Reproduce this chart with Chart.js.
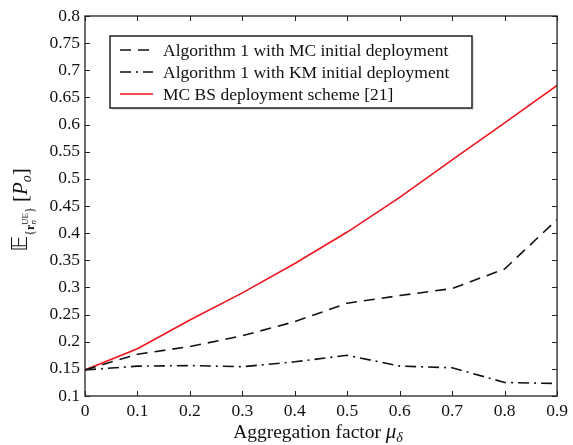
<!DOCTYPE html>
<html>
<head>
<meta charset="utf-8">
<script src="https://cdn.jsdelivr.net/npm/chart.js@4/dist/chart.umd.min.js"></script>
<style>
  html, body { margin: 0; padding: 0; background: #fff; }
  #wrap { width: 573px; height: 445px; }
</style>
</head>
<body>
<div id="wrap"><canvas id="myChart"></canvas></div>
<script>
// aggregation factor values on the x axis
const aggFactor = [0, 0.1, 0.2, 0.3, 0.4, 0.5, 0.6, 0.7, 0.8, 0.9];
// Algorithm 1 with MC initial deployment
const algoMC = [0.148, 0.177, 0.191, 0.211, 0.237, 0.271, 0.285, 0.298, 0.334, 0.425];
// Algorithm 1 with KM initial deployment
const algoKM = [0.148, 0.155, 0.156, 0.154, 0.163, 0.175, 0.155, 0.152, 0.125, 0.123];
// MC BS deployment scheme [21]
const mcBS = [0.148, 0.187, 0.240, 0.290, 0.344, 0.402, 0.466, 0.535, 0.603, 0.672];

const legendLabels = [
    'Algorithm 1 with MC initial deployment',
    'Algorithm 1 with KM initial deployment',
    'MC BS deployment scheme [21]'
];

const serif = '"Liberation Serif", "Times New Roman", serif';

const toPoints = (arr) => aggFactor.map((x, i) => ({ x: x, y: arr[i] }));

// box + inward ticks on all four sides
const framePlugin = {
    id: 'frame',
    afterDraw(chart) {
        const { ctx, chartArea: a, scales: { x, y } } = chart;
        ctx.save();
        ctx.strokeStyle = '#222';
        ctx.lineWidth = 1.3;
        ctx.strokeRect(a.left, a.top, a.right - a.left, a.bottom - a.top);
        ctx.lineWidth = 1;
        ctx.beginPath();
        x.ticks.forEach(t => {
            const px = Math.round(x.getPixelForValue(t.value)) + 0.5;
            ctx.moveTo(px, a.bottom); ctx.lineTo(px, a.bottom - 5);
            ctx.moveTo(px, a.top); ctx.lineTo(px, a.top + 5);
        });
        y.ticks.forEach(t => {
            const py = Math.round(y.getPixelForValue(t.value)) + 0.5;
            ctx.moveTo(a.left, py); ctx.lineTo(a.left + 5, py);
            ctx.moveTo(a.right, py); ctx.lineTo(a.right - 5, py);
        });
        ctx.stroke();
        ctx.restore();
    }
};

// legend box inside the plot, upper left
const legendPlugin = {
    id: 'boxLegend',
    afterDraw(chart) {
        const { ctx, chartArea: a } = chart;
        const left = a.left + 25, top = a.top + 20, w = 362, h = 72;
        ctx.save();
        ctx.fillStyle = 'rgba(0,0,0,0.12)';
        ctx.fillRect(left + 2, top + 2, w, h);
        ctx.fillStyle = '#fff';
        ctx.fillRect(left, top, w, h);
        ctx.strokeStyle = '#222';
        ctx.lineWidth = 1.5;
        ctx.strokeRect(left, top, w, h);
        ctx.font = '17.5px ' + serif;
        ctx.textBaseline = 'middle';
        chart.data.datasets.forEach((ds, i) => {
            const yy = top + 14 + i * 22;
            ctx.beginPath();
            ctx.strokeStyle = ds.borderColor;
            ctx.lineWidth = ds.borderWidth;
            ctx.setLineDash(ds.borderDash || []);
            ctx.moveTo(left + 10, yy);
            ctx.lineTo(left + 43, yy);
            ctx.stroke();
            ctx.setLineDash([]);
            ctx.fillStyle = '#111';
            ctx.fillText(legendLabels[i], left + 53, yy + 1);
        });
        ctx.restore();
    }
};

// axis titles with sub/superscripts
const titlePlugin = {
    id: 'titles',
    afterDraw(chart) {
        const { ctx, chartArea: a } = chart;
        ctx.save();
        ctx.fillStyle = '#111';
        ctx.textBaseline = 'alphabetic';

        // x title: Aggregation factor mu_delta
        const xRuns = [
            { t: 'Aggregation factor ', f: '19.5px ' + serif, dy: 0 },
            { t: 'μ', f: 'italic 21px ' + serif, dy: 0 },
            { t: 'δ', f: 'italic 14px ' + serif, dy: 4 }
        ];
        drawRuns(ctx, xRuns, 318, 438);

        // y title: E_{r_n^UE}[P_o], rotated
        ctx.translate(27, 210);
        ctx.rotate(-Math.PI / 2);
        const yRuns = [
            { t: '𝔼', f: '22px "DejaVu Sans", ' + serif, dy: 0 },
            { t: '{', f: '12px ' + serif, dy: 7 },
            { t: 'r', f: 'bold 12px ' + serif, dy: 7 },
            { t: 'n', f: 'italic 9px ' + serif, dy: 9 },
            { t: 'UE', f: '9px ' + serif, dy: 1, back: 5 },
            { t: '}', f: '12px ' + serif, dy: 7 },
            { t: ' [', f: '21px ' + serif, dy: 0 },
            { t: 'P', f: 'italic 21px ' + serif, dy: 0 },
            { t: 'o', f: 'italic 14px ' + serif, dy: 4 },
            { t: ']', f: '21px ' + serif, dy: 0 }
        ];
        drawRuns(ctx, yRuns, 0, 0);
        ctx.restore();
    }
};

function drawRuns(ctx, runs, cx, baseY) {
    let total = 0;
    runs.forEach(r => { ctx.font = r.f; total += ctx.measureText(r.t).width - (r.back || 0); });
    let x = cx - total / 2;
    runs.forEach(r => {
        ctx.font = r.f;
        x -= (r.back || 0);
        ctx.fillText(r.t, x, baseY + r.dy);
        x += ctx.measureText(r.t).width;
    });
}

const fmt = (v) => String(Math.round(v * 100) / 100);

new Chart(document.getElementById('myChart'), {
    type: 'line',
    data: {
        datasets: [{
            label: legendLabels[0],
            data: toPoints(algoMC),
            borderColor: '#111',
            borderWidth: 1.6,
            borderDash: [11, 7]
        }, {
            label: legendLabels[1],
            data: toPoints(algoKM),
            borderColor: '#111',
            borderWidth: 1.6,
            borderDash: [11, 5, 2, 5]
        }, {
            label: legendLabels[2],
            data: toPoints(mcBS),
            borderColor: '#f0141e',
            borderWidth: 1.6
        }]
    },
    options: {
        responsive: true,
        maintainAspectRatio: false,
        animation: false,
        events: [],
        elements: { point: { radius: 0 }, line: { tension: 0 } },
        layout: { padding: { left: 0, right: 14, top: 16, bottom: 0 } },
        plugins: { legend: { display: false }, tooltip: { enabled: false } },
        scales: {
            x: {
                type: 'linear',
                min: 0, max: 0.9,
                grid: { display: false, drawTicks: false },
                border: { display: false },
                ticks: {
                    stepSize: 0.1, color: '#111', padding: 5,
                    font: { family: serif, size: 17.5 },
                    maxRotation: 0,
                    callback: (v) => fmt(v)
                },
                afterFit: (s) => { s.height = 49; }
            },
            y: {
                min: 0.1, max: 0.8,
                grid: { display: false, drawTicks: false },
                border: { display: false },
                ticks: {
                    stepSize: 0.05, color: '#111', padding: 5,
                    font: { family: serif, size: 17.5 },
                    callback: (v) => fmt(v)
                },
                afterFit: (s) => { s.width = 85; }
            }
        }
    },
    plugins: [framePlugin, legendPlugin, titlePlugin]
});
</script>
</body>
</html>
